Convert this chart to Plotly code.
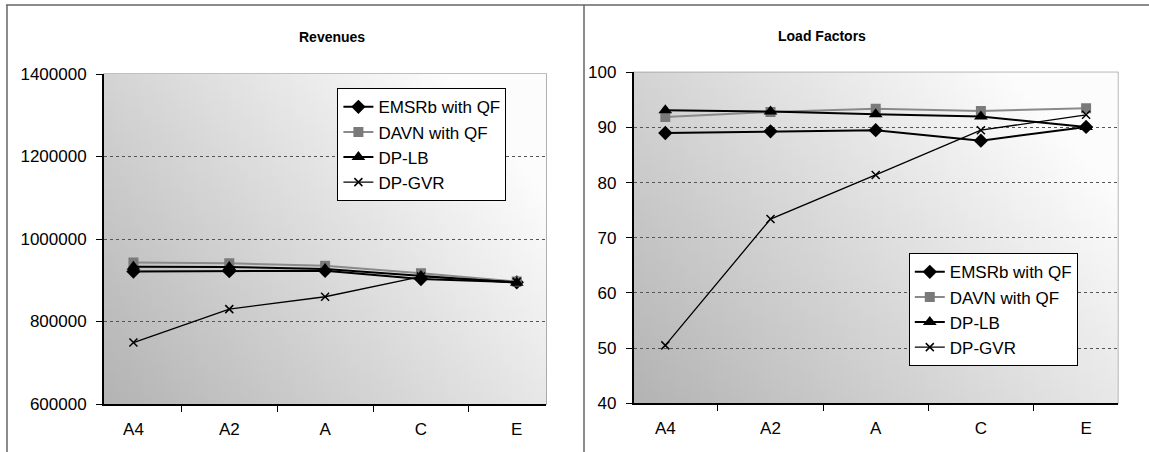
import zlib, struct, base64
import plotly.graph_objects as go

categories = ["A4", "A2", "A", "C", "E"]

series_names = ["EMSRb with QF", "DAVN with QF", "DP-LB", "DP-GVR"]

rev_emsrb = [921000, 922000, 923000, 903000, 895000]
rev_davn = [943000, 941000, 935000, 917000, 897000]
rev_dplb = [933000, 932000, 927000, 910000, 894000]
rev_dpgvr = [749000, 830000, 860000, 909000, 896000]

lf_emsrb = [89.0, 89.3, 89.5, 87.6, 90.1]
lf_davn = [91.9, 92.8, 93.4, 93.0, 93.5]
lf_dplb = [93.1, 92.9, 92.4, 92.0, 90.1]
lf_dpgvr = [50.5, 73.4, 81.4, 89.5, 92.3]

rev_ticks = [600000, 800000, 1000000, 1200000, 1400000]
lf_ticks = [40, 50, 60, 70, 80, 90, 100]

W, H = 1149, 452
FONT = "Liberation Sans, Arial, sans-serif"


def gradient_png(w=96, h=96):
    rows = []
    for j in range(h):
        v = 1 - j / (h - 1)  # 1 at top
        row = []
        for i in range(w):
            u = i / (w - 1)
            t = min(1.0, max(0.0, 0.72 * u + 0.45 * v))
            row.append(int(180 + 72 * t))
        rows.append(row)
    raw = b"".join(b"\x00" + bytes(r) for r in rows)

    def chunk(t, d):
        c = struct.pack(">I", len(d)) + t + d
        return c + struct.pack(">I", zlib.crc32(t + d) & 0xFFFFFFFF)

    ihdr = struct.pack(">IIBBBBB", w, h, 8, 0, 0, 0, 0)
    png = b"\x89PNG\r\n\x1a\n" + chunk(b"IHDR", ihdr) + chunk(b"IDAT", zlib.compress(raw)) + chunk(b"IEND", b"")
    return "data:image/png;base64," + base64.b64encode(png).decode()


bg = gradient_png()

styles = [
    dict(line=dict(color="black", width=2), marker=dict(symbol="diamond", size=11, color="black")),
    dict(line=dict(color="#8a8a8a", width=2), marker=dict(symbol="square", size=10, color="#7a7a7a")),
    dict(line=dict(color="black", width=2), marker=dict(symbol="triangle-up", size=12, color="black")),
    dict(line=dict(color="black", width=1.3), marker=dict(symbol="x-thin", size=8, color="black",
                                                          line=dict(width=1.5, color="black"))),
]

fig = go.Figure()
left_series = [rev_emsrb, rev_davn, rev_dplb, rev_dpgvr]
right_series = [lf_emsrb, lf_davn, lf_dplb, lf_dpgvr]
for k, (name, ys) in enumerate(zip(series_names, left_series)):
    fig.add_trace(go.Scatter(x=categories, y=ys, name=name, mode="lines+markers",
                             xaxis="x", yaxis="y", legend="legend", legendgroup="L%d" % k,
                             **styles[k]))
for k, (name, ys) in enumerate(zip(series_names, right_series)):
    fig.add_trace(go.Scatter(x=categories, y=ys, name=name, mode="lines+markers",
                             xaxis="x2", yaxis="y2", legend="legend2", legendgroup="R%d" % k,
                             **styles[k]))

xcommon = dict(type="category", categoryorder="array", categoryarray=categories,
               tickson="boundaries", ticks="outside", ticklen=6, tickcolor="black", tickwidth=1.2,
               showline=True, linecolor="black", linewidth=1.5, showgrid=False,
               tickfont=dict(size=17, color="black", family=FONT), ticklabelstandoff=9)
ycommon = dict(ticks="outside", ticklen=6, tickcolor="black", tickwidth=1.2,
               showline=True, linecolor="black", linewidth=1.5,
               showgrid=True, gridcolor="#555555", griddash="dot", gridwidth=1,
               zeroline=False, tickformat="d",
               tickfont=dict(size=17, color="black", family=FONT), ticklabelstandoff=6)

fig.update_layout(
    width=W, height=H,
    margin=dict(l=0, r=0, t=0, b=0, autoexpand=False),
    paper_bgcolor="white", plot_bgcolor="white",
    font=dict(family=FONT, color="black"),
    xaxis=dict(domain=[103.8 / W, 546.4 / W], anchor="y", **xcommon),
    yaxis=dict(domain=[(H - 404) / H, (H - 74) / H], anchor="x", range=[600000, 1400000],
               tickvals=rev_ticks, **ycommon),
    xaxis2=dict(domain=[633.6 / W, 1117.8 / W], anchor="y2", **xcommon),
    yaxis2=dict(domain=[(H - 403.3) / H, (H - 72.3) / H], anchor="x2", range=[40, 100],
                tickvals=lf_ticks, **ycommon),
    legend=dict(x=337.4 / W, y=(H - 88.3) / H, xanchor="left", yanchor="top",
                bgcolor="white", bordercolor="black", borderwidth=1,
                font=dict(size=17, family=FONT, color="black"),
                traceorder="grouped", tracegroupgap=0, itemwidth=30),
    legend2=dict(x=908.8 / W, y=(H - 253.3) / H, xanchor="left", yanchor="top",
                 bgcolor="white", bordercolor="black", borderwidth=1,
                 font=dict(size=17, family=FONT, color="black"),
                 traceorder="grouped", tracegroupgap=0, itemwidth=30),
    images=[
        dict(source=bg, xref="x domain", yref="y domain", x=0, y=1, sizex=1, sizey=1,
             xanchor="left", yanchor="top", sizing="stretch", layer="below"),
        dict(source=bg, xref="x2 domain", yref="y2 domain", x=0, y=1, sizex=1, sizey=1,
             xanchor="left", yanchor="top", sizing="stretch", layer="below"),
    ],
    annotations=[
        dict(text="<b>Revenues</b>", x=297 / W, y=(H - 27) / H, xref="paper", yref="paper",
             showarrow=False, font=dict(size=14, family=FONT, color="black")),
        dict(text="<b>Load Factors</b>", x=868 / W, y=(H - 26) / H, xref="paper", yref="paper",
             showarrow=False, font=dict(size=14, family=FONT, color="black")),
    ],
    shapes=[
        dict(type="rect", xref="x domain", yref="y domain", x0=0, x1=1, y0=0, y1=1,
             line=dict(color="#808080", width=1.2), layer="below"),
        dict(type="rect", xref="x2 domain", yref="y2 domain", x0=0, x1=1, y0=0, y1=1,
             line=dict(color="#808080", width=1.2), layer="below"),
        dict(type="line", xref="paper", yref="paper", x0=6 / W, x1=1, y0=(H - 5) / H, y1=(H - 5) / H,
             line=dict(color="#666666", width=1.5)),
        dict(type="line", xref="paper", yref="paper", x0=7 / W, x1=7 / W, y0=0, y1=(H - 5) / H,
             line=dict(color="#666666", width=1.5)),
        dict(type="line", xref="paper", yref="paper", x0=584 / W, x1=584 / W, y0=0, y1=(H - 5) / H,
             line=dict(color="#666666", width=1.5)),
    ],
)

fig.write_html("out.html")
